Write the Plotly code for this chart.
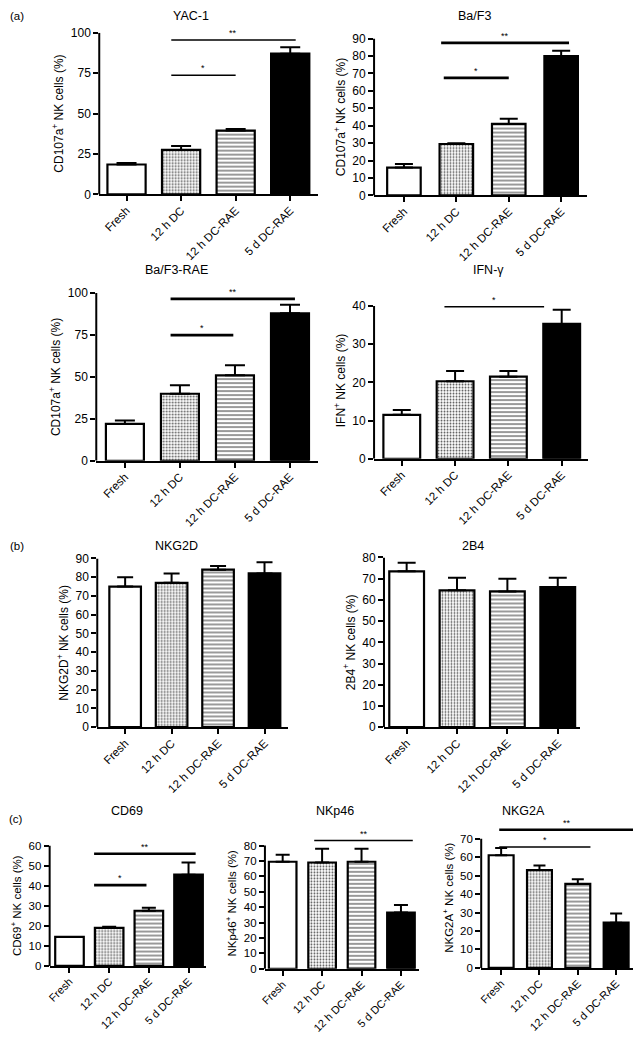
import plotly.graph_objects as go

W, H = 633, 1040

categories = ["Fresh", "12 h DC", "12 h DC-RAE", "5 d DC-RAE"]

# ---- data (mean, upper SEM) ----
yac1_mean = [18.5, 27.5, 39.5, 87.0]
yac1_err = [1.0, 2.5, 1.0, 4.0]
baf3_mean = [16.0, 29.5, 41.0, 80.0]
baf3_err = [2.0, 0.5, 3.0, 3.0]
baf3rae_mean = [22.0, 40.0, 51.0, 88.0]
baf3rae_err = [2.0, 5.0, 6.0, 5.0]
ifng_mean = [11.5, 20.3, 21.5, 35.3]
ifng_err = [1.3, 2.7, 1.5, 3.7]
nkg2d_mean = [75.0, 77.0, 84.0, 82.0]
nkg2d_err = [5.0, 5.0, 2.0, 6.0]
b2b4_mean = [73.5, 64.5, 64.0, 66.0]
b2b4_err = [4.0, 6.0, 6.0, 4.5]
cd69_mean = [14.5, 19.0, 27.5, 45.5]
cd69_err = [0.0, 0.5, 1.5, 6.0]
nkp46_mean = [69.5, 69.0, 69.5, 36.5]
nkp46_err = [4.5, 9.0, 8.5, 5.0]
nkg2a_mean = [61.0, 53.0, 45.5, 24.5]
nkg2a_err = [4.0, 2.5, 2.5, 5.0]

# significance brackets: (x start, x end, level, label)
yac1_sig = [(0.82, 3.1, 95.5, "**"), (0.82, 2.0, 73.6, "*")]
baf3_sig = [(0.71, 3.15, 87.5, "**"), (0.76, 2.0, 67.4, "*")]
baf3rae_sig = [(0.83, 3.09, 96.5, "**"), (0.83, 1.97, 75.0, "*")]
ifng_sig = [(0.8, 2.67, 39.8, "*")]
nkg2d_sig = []
b2b4_sig = []
cd69_sig = [(0.62, 3.18, 55.9, "**"), (0.62, 1.94, 40.3, "*")]
nkp46_sig = [(0.8, 3.3, 83.2, "**")]
nkg2a_sig = [(-0.05, 3.5, 74.8, "**"), (-0.05, 2.33, 65.5, "*")]

# ---- styles ----
bar_colors = ["white", "white", "white", "black"]
bar_shapes = ["", ".", "-", ""]
bar_fg = ["black", "#555555", "#555555", "black"]
bar_psize = [4, 3, 4, 4]
bar_solid = [0.3, 0.3, 0.3, 0.3]

panels = [
    dict(title="YAC-1", ytitle="CD107a<sup>+</sup> NK cells (%)", mean=yac1_mean, err=yac1_err, sig=yac1_sig,
         ticks=[0, 25, 50, 75, 100], px=(95, 315), py0=190, pytop=26, rtop=100, xr=(-0.5, 3.5), bw=0.7,
         cap=10, sigw=[1.5, 1.5], tpos=(187, 9), fs=12, xfs=11.5),
    dict(title="Ba/F3", ytitle="CD107a<sup>+</sup> NK cells (%)", mean=baf3_mean, err=baf3_err, sig=baf3_sig,
         ticks=list(range(0, 91, 10)), px=(372, 587), py0=191, pytop=32, rtop=90, xr=(-0.57, 3.5), bw=0.64,
         cap=9, sigw=[2.8, 2.8], tpos=(473, 9), fs=12, xfs=11.5),
    dict(title="Ba/F3-RAE", ytitle="CD107a<sup>+</sup> NK cells (%)", mean=baf3rae_mean, err=baf3rae_err, sig=baf3rae_sig,
         ticks=[0, 25, 50, 75, 100], px=(92, 315), py0=460, pytop=290, rtop=100, xr=(-0.52, 3.5), bw=0.69,
         cap=10, sigw=[2.8, 2.8], tpos=(173, 267), fs=12, xfs=11.5),
    dict(title="IFN-γ", ytitle="IFN<sup>+</sup> NK cells (%)", mean=ifng_mean, err=ifng_err, sig=ifng_sig,
         ticks=[0, 10, 20, 30, 40], px=(372, 588), py0=458, pytop=303, rtop=41, xr=(-0.52, 3.5), bw=0.69,
         cap=9, sigw=[1.5], tpos=(487, 267), fs=12, xfs=11.5),
    dict(title="NKG2D", ytitle="NKG2D<sup>+</sup> NK cells (%)", mean=nkg2d_mean, err=nkg2d_err, sig=nkg2d_sig,
         ticks=list(range(0, 91, 10)), px=(93, 285), py0=730, pytop=559, rtop=90, xr=(-0.6, 3.5), bw=0.68,
         cap=8, sigw=[], tpos=(173, 546), fs=12, xfs=11.5),
    dict(title="2B4", ytitle="2B4<sup>+</sup> NK cells (%)", mean=b2b4_mean, err=b2b4_err, sig=b2b4_sig,
         ticks=list(range(0, 81, 10)), px=(382, 580), py0=730, pytop=558, rtop=80, xr=(-0.45, 3.45), bw=0.69,
         cap=9, sigw=[], tpos=(472, 546), fs=12, xfs=11.5),
    dict(title="CD69", ytitle="CD69<sup>+</sup> NK cells (%)", mean=cd69_mean, err=cd69_err, sig=cd69_sig,
         ticks=list(range(0, 61, 10)), px=(45, 203), py0=972, pytop=850, rtop=60, xr=(-0.5, 3.45), bw=0.72,
         cap=7, sigw=[2.6, 2.6], tpos=(123, 815), fs=11.5, xfs=11),
    dict(title="NKp46", ytitle="NKp46<sup>+</sup> NK cells (%)", mean=nkp46_mean, err=nkp46_err, sig=nkp46_sig,
         ticks=list(range(0, 81, 10)), px=(262, 417), py0=975, pytop=850, rtop=85, xr=(-0.45, 3.45), bw=0.7,
         cap=7, sigw=[1.5], tpos=(333, 815), fs=11.5, xfs=11),
    dict(title="NKG2A", ytitle="NKG2A<sup>+</sup> NK cells (%)", mean=nkg2a_mean, err=nkg2a_err, sig=nkg2a_sig,
         ticks=list(range(0, 71, 10)), px=(480, 633), py0=974, pytop=843, rtop=76, xr=(-0.52, 3.44), bw=0.65,
         cap=6, sigw=[2.6, 1.5], tpos=(523, 815), fs=11.5, xfs=11),
]

FONT = "Liberation Sans, Arial, sans-serif"
fig = go.Figure()
shapes = []
annotations = []
layout = {}
xpos = list(range(len(categories)))

for i, p in enumerate(panels, start=1):
    xa = "x" if i == 1 else f"x{i}"
    ya = "y" if i == 1 else f"y{i}"
    xkey = "xaxis" if i == 1 else f"xaxis{i}"
    ykey = "yaxis" if i == 1 else f"yaxis{i}"
    top_tick = p["ticks"][-1]
    ppu = (p["py0"] - p["pytop"]) / top_tick
    py_rtop = p["py0"] - ppu * p["rtop"]
    ydom = [1 - p["py0"] / H, 1 - py_rtop / H]
    xdom = [p["px"][0] / W, min(p["px"][1] / W, 1.0)]

    for j in range(len(categories)):
        marker = dict(color=bar_colors[j], line=dict(color="black", width=2.2))
        if bar_shapes[j]:
            marker["pattern"] = dict(shape=bar_shapes[j], fgcolor=bar_fg[j], bgcolor="white",
                                     size=bar_psize[j], solidity=bar_solid[j], fillmode="replace")
        fig.add_trace(go.Bar(
            x=[xpos[j]], y=[p["mean"][j]], xaxis=xa, yaxis=ya, width=p["bw"],
            marker=marker,
            error_y=dict(type="data", symmetric=False, array=[p["err"][j]], arrayminus=[0],
                         color="black", thickness=2, width=p["cap"], visible=p["err"][j] > 0),
            showlegend=False, hoverinfo="skip",
        ))

    layout[xkey] = dict(domain=xdom, anchor=ya, range=list(p["xr"]), tickmode="array",
                        tickvals=xpos, ticktext=categories, tickangle=-45, ticklabelstandoff=-2,
                        showline=True, linecolor="black", linewidth=2, ticks="outside",
                        ticklen=5, tickwidth=2, tickcolor="black", showgrid=False, zeroline=False,
                        tickfont=dict(family=FONT, size=p["xfs"], color="black"), fixedrange=True)
    layout[ykey] = dict(domain=ydom, anchor=xa, range=[0, p["rtop"]], tickmode="array",
                        tickvals=p["ticks"], showline=False, ticks="outside", ticklen=5, tickwidth=2,
                        tickcolor="black", showgrid=False, zeroline=False,
                        tickfont=dict(family=FONT, size=p["fs"], color="black"),
                        title=dict(text=p["ytitle"], font=dict(family=FONT, size=p["fs"], color="black"),
                                   standoff=4), fixedrange=True)
    # y axis line from 0 to the top tick
    shapes.append(dict(type="line", xref=f"{xa} domain", yref=ya, x0=0, x1=0, y0=0, y1=top_tick,
                       line=dict(color="black", width=2)))
    for (s0, s1, lev, lab), lw in zip(p["sig"], p["sigw"]):
        shapes.append(dict(type="line", xref=xa, yref=ya, x0=s0, x1=s1, y0=lev, y1=lev,
                           line=dict(color="black", width=lw)))
        annotations.append(dict(x=(s0 + s1) / 2, y=lev, xref=xa, yref=ya, text=lab, showarrow=False,
                                yanchor="bottom", yshift=0, font=dict(family=FONT, size=9, color="black")))
    annotations.append(dict(x=p["tpos"][0] / W, y=1 - p["tpos"][1] / H, xref="paper", yref="paper",
                            text=p["title"], showarrow=False, xanchor="center", yanchor="middle",
                            font=dict(family=FONT, size=12.5, color="black")))

for lab, (lx, ly) in [("(a)", (12, 9)), ("(b)", (12, 546)), ("(c)", (11, 823))]:
    annotations.append(dict(x=lx / W, y=1 - ly / H, xref="paper", yref="paper", text=lab, showarrow=False,
                            xanchor="center", yanchor="middle", font=dict(family=FONT, size=11.5, color="black")))

fig.update_layout(width=W, height=H, margin=dict(l=0, r=0, t=0, b=0), paper_bgcolor="white",
                  plot_bgcolor="white", shapes=shapes, annotations=annotations, barmode="overlay",
                  font=dict(family=FONT, color="black"), **layout)

fig.write_html("out.html", config={"displayModeBar": False},
               post_script="document.body.style.margin='0';document.body.style.overflow='hidden';")
